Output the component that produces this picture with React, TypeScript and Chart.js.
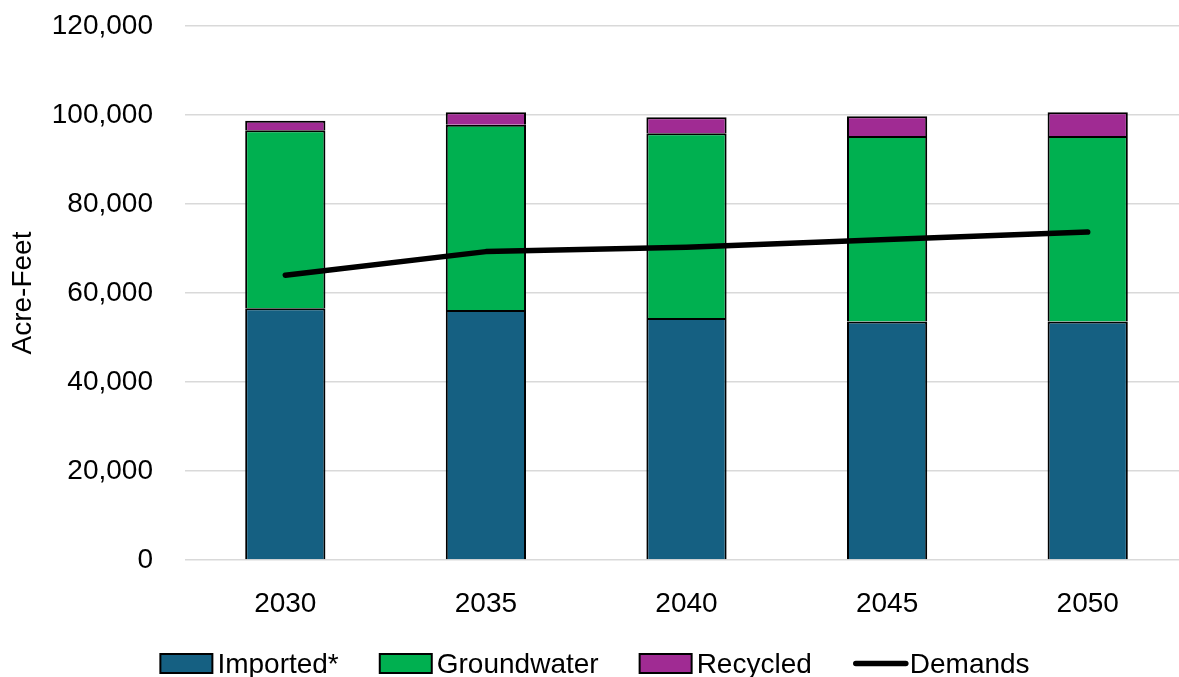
import React, { useEffect, useRef } from 'react';
import { Chart, registerables } from 'chart.js';

Chart.register(...registerables);

const years = ['2030', '2035', '2040', '2045', '2050'];
const imported = [56600, 56200, 54400, 53600, 53600];
const groundwater = [40000, 41600, 41500, 41700, 41700];
const recycled = [2100, 2800, 3600, 4400, 5300];
const demands = [64000, 69300, 70300, 72000, 73700];
const yTicks = [0, 20000, 40000, 60000, 80000, 100000, 120000];

const FONT = "'Liberation Sans', Arial, sans-serif";
const C_IMPORTED = '#156082';
const C_GROUND = '#00B050';
const C_RECYCLED = '#A02B93';

export default function App() {
  const ref = useRef<HTMLCanvasElement>(null);

  useEffect(() => {
    document.body.style.overflow = 'hidden';
    const legendItems = [
      { kind: 'box', color: C_IMPORTED, label: 'Imported*' },
      { kind: 'box', color: C_GROUND, label: 'Groundwater' },
      { kind: 'box', color: C_RECYCLED, label: 'Recycled' },
      { kind: 'line', color: '#000', label: 'Demands' },
    ];
    const legendPlugin = {
      id: 'customLegend',
      afterDraw(chart: any) {
        const ctx = chart.ctx as CanvasRenderingContext2D;
        ctx.save();
        ctx.font = `28px ${FONT}`;
        const markW = 52;
        const textGap = 5;
        const itemGap = 41;
        const widths = legendItems.map((it) => markW + textGap + ctx.measureText(it.label).width);
        const total = widths.reduce((a, b) => a + b, 0) + itemGap * (legendItems.length - 1);
        let x = 595 - total / 2;
        const midY = 663.5;
        legendItems.forEach((it, i) => {
          if (it.kind === 'box') {
            ctx.fillStyle = it.color;
            ctx.fillRect(x, midY - 9.5, markW, 19);
            ctx.lineWidth = 2;
            ctx.strokeStyle = '#000';
            ctx.strokeRect(x, midY - 9.5, markW, 19);
          } else {
            ctx.beginPath();
            ctx.lineWidth = 5.5;
            ctx.lineCap = 'round';
            ctx.strokeStyle = '#000';
            ctx.moveTo(x + 3, midY);
            ctx.lineTo(x + markW + 1, midY);
            ctx.stroke();
          }
          ctx.fillStyle = '#000';
          ctx.textAlign = 'left';
          ctx.textBaseline = 'alphabetic';
          ctx.fillText(it.label, x + markW + textGap, 673);
          x += widths[i] + itemGap;
        });
        ctx.restore();
      },
    };

    const barCommon = {
      type: 'bar' as const,
      stack: 'supply',
      borderColor: '#000',
      borderWidth: 2,
      borderSkipped: 'start',
      categoryPercentage: 0.4,
      barPercentage: 1,
      order: 1,
    };

    const chart = new Chart(ref.current as HTMLCanvasElement, {
      type: 'bar',
      data: {
        labels: years,
        datasets: [
          {
            type: 'line',
            label: 'Demands',
            data: demands,
            stack: 'demand',
            borderColor: '#000',
            backgroundColor: '#000',
            borderWidth: 5.5,
            pointRadius: 0,
            borderCapStyle: 'round',
            borderJoinStyle: 'round',
            tension: 0,
            order: 0,
          } as any,
          { ...barCommon, label: 'Imported*', data: imported, backgroundColor: C_IMPORTED } as any,
          { ...barCommon, label: 'Groundwater', data: groundwater, backgroundColor: C_GROUND } as any,
          { ...barCommon, label: 'Recycled', data: recycled, backgroundColor: C_RECYCLED } as any,
        ],
      },
      options: {
        responsive: false,
        animation: false,
        layout: { padding: { top: 26, left: 0, right: 0, bottom: 0 } },
        plugins: {
          legend: { display: false },
          tooltip: { enabled: false },
        },
        scales: {
          x: {
            stacked: true,
            grid: { display: false },
            border: { display: false },
            ticks: { font: { family: FONT, size: 28 }, color: '#000', padding: 19 },
            afterFit: (scale: any) => {
              scale.height = 117;
              scale.paddingLeft = 0;
              scale.paddingRight = 0;
            },
          },
          y: {
            stacked: true,
            min: 0,
            max: 120000,
            afterBuildTicks: (scale: any) => {
              scale.ticks = yTicks.map((v) => ({ value: v }));
            },
            ticks: {
              font: { family: FONT, size: 28 },
              color: '#000',
              padding: 32,
              callback: (v: any) => Number(v).toLocaleString('en-US'),
            },
            grid: { color: '#d9d9d9', lineWidth: 1.5, drawTicks: false },
            border: { display: false },
            title: {
              display: true,
              text: 'Acre-Feet',
              font: { family: FONT, size: 28 },
              color: '#000',
              padding: { top: 6, bottom: 0 },
            },
            afterFit: (scale: any) => {
              scale.width = 185;
              scale.paddingTop = 0;
              scale.paddingBottom = 0;
            },
          },
        },
      },
      plugins: [legendPlugin],
    });
    return () => chart.destroy();
  }, []);

  return (
    <div style={{ position: 'fixed', left: 0, top: 0, width: 1188, height: 677, background: '#fff' }}>
      <canvas ref={ref} width={1188} height={677} style={{ display: 'block' }} />
    </div>
  );
}
